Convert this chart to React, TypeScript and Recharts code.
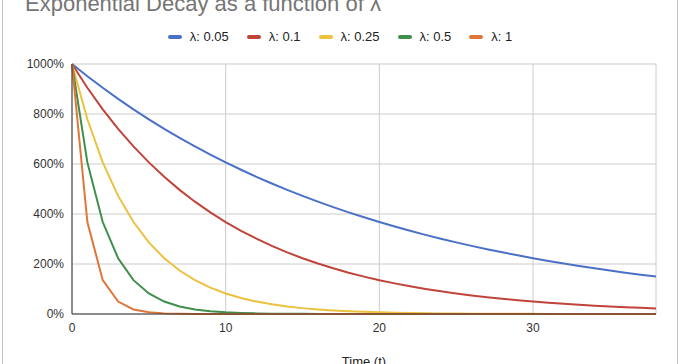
import React from "react";
import { LineChart, Line, XAxis, YAxis, CartesianGrid, Legend, Label } from "recharts";

const TITLE = "Exponential Decay as a function of λ";
const X_LABEL = "Time (t)";
const TIME = [0,1,2,3,4,5,6,7,8,9,10,11,12,13,14,15,16,17,18,19,20,21,22,23,24,25,26,27,28,29,30,31,32,33,34,35,36,37,38];
const SERIES_NAMES = ["λ: 0.05", "λ: 0.1", "λ: 0.25", "λ: 0.5", "λ: 1"];
const COLORS = ["#4a71c7", "#c0443a", "#ecc13d", "#3f8f4b", "#e07538"];
const Y_TICKS = [0, 200, 400, 600, 800, 1000];
const X_TICKS = [0, 10, 20, 30];

const L005 = [1000,951.2,904.8,860.7,818.7,778.8,740.8,704.7,670.3,637.6,606.5,576.9,548.8,522.0,496.6,472.4,449.3,427.4,406.6,386.7,367.9,349.9,332.9,316.6,301.2,286.5,272.5,259.2,246.6,234.6,223.1,212.2,201.9,192.0,182.7,173.8,165.3,157.2,149.6];
const L01 = [1000,904.8,818.7,740.8,670.3,606.5,548.8,496.6,449.3,406.6,367.9,332.9,301.2,272.5,246.6,223.1,201.9,182.7,165.3,149.6,135.3,122.5,110.8,100.3,90.7,82.1,74.3,67.2,60.8,55.0,49.8,45.0,40.8,36.9,33.4,30.2,27.3,24.7,22.4];
const L025 = [1000,778.8,606.5,472.4,367.9,286.5,223.1,173.8,135.3,105.4,82.1,63.9,49.8,38.8,30.2,23.5,18.3,14.3,11.1,8.7,6.7,5.2,4.1,3.2,2.5,1.9,1.5,1.2,0.9,0.7,0.6,0.4,0.3,0.3,0.2,0.2,0.1,0.1,0.1];
const L05 = [1000,606.5,367.9,223.1,135.3,82.1,49.8,30.2,18.3,11.1,6.7,4.1,2.5,1.5,0.9,0.6,0.3,0.2,0.1,0.1,0,0,0,0,0,0,0,0,0,0,0,0,0,0,0,0,0,0,0];
const L1 = [1000,367.9,135.3,49.8,18.3,6.7,2.5,0.9,0.3,0.1,0,0,0,0,0,0,0,0,0,0,0,0,0,0,0,0,0,0,0,0,0,0,0,0,0,0,0,0,0];

const SERIES = [L005, L01, L025, L05, L1];
const KEYS = ["s0", "s1", "s2", "s3", "s4"];

const data = TIME.map((t, i) => {
  const row: Record<string, number> = { t };
  SERIES.forEach((s, k) => { row[KEYS[k]] = s[i]; });
  return row;
});

const FONT = "'Liberation Sans', Arial, Helvetica, sans-serif";

const renderLegend = (props: any) => {
  const payload = props.payload || [];
  return (
    <div style={{ display: "flex", justifyContent: "center", alignItems: "center", fontFamily: FONT, fontSize: 13, color: "#222", lineHeight: "18px", height: 18 }}>
      {payload.map((p: any, i: number) => (
        <div key={p.value} style={{ display: "flex", alignItems: "center", marginRight: i < payload.length - 1 ? 18 : 0 }}>
          <span style={{ display: "inline-block", width: 14, height: 4, borderRadius: 2, background: p.color, marginRight: 8 }} />
          <span>{p.value}</span>
        </div>
      ))}
    </div>
  );
};

export default function App() {
  return (
    <div style={{ position: "absolute", left: 0, top: 0, width: 680, height: 364, overflow: "hidden", background: "#fff", fontFamily: FONT }}>
      <div style={{ position: "absolute", left: 2, top: 0, width: 1, height: 364, background: "#c4c4c4" }} />
      <div style={{ position: "absolute", left: 677, top: 0, width: 1, height: 364, background: "#c4c4c4" }} />
      <div style={{ position: "absolute", left: 25, top: -7, fontSize: 22, lineHeight: "22px", color: "#757575", whiteSpace: "nowrap" }}>{TITLE}</div>
      <LineChart width={680} height={364} data={data} margin={{ top: 64, right: 24, bottom: 0, left: 0 }}>
        <CartesianGrid stroke="#cccccc" strokeWidth={1} />
        <XAxis
          dataKey="t"
          type="number"
          domain={[0, 38]}
          ticks={X_TICKS}
          height={50}
          tickLine={false}
          tickSize={6}
          tickMargin={3}
          axisLine={{ stroke: "#333", strokeWidth: 1 }}
          tick={{ fill: "#333", fontSize: 12, fontFamily: FONT }}
        >
          <Label value={X_LABEL} position="insideTop" offset={43} fill="#222" fontSize={13} fontFamily={FONT} />
        </XAxis>
        <YAxis
          type="number"
          domain={[0, 1000]}
          ticks={Y_TICKS}
          width={72}
          tickLine={false}
          axisLine={{ stroke: "#333", strokeWidth: 1 }}
          tickFormatter={(v: number) => `${v}%`}
          tick={{ fill: "#333", fontSize: 12, fontFamily: FONT }}
        />
        <Legend
          content={renderLegend}
          layout="horizontal"
          verticalAlign="middle"
          align="center"
          wrapperStyle={{ top: 28, left: 0, width: 680, height: 18 }}
        />
        {KEYS.map((k, i) => (
          <Line
            key={k}
            type="linear"
            dataKey={k}
            name={SERIES_NAMES[i]}
            stroke={COLORS[i]}
            strokeWidth={2}
            dot={false}
            activeDot={false}
            isAnimationActive={false}
          />
        ))}
      </LineChart>
    </div>
  );
}
